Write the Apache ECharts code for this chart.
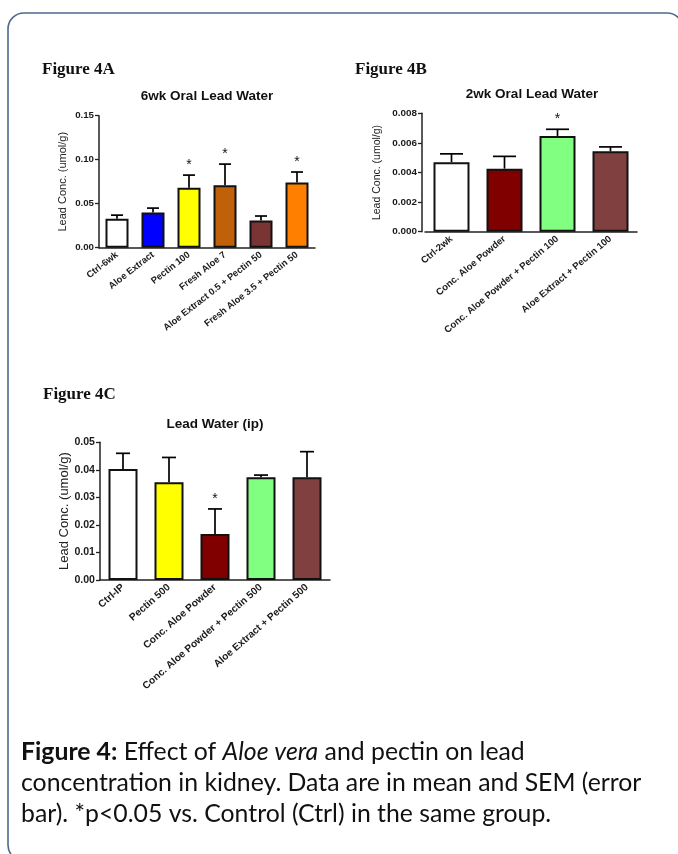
<!DOCTYPE html>
<html><head><meta charset="utf-8">
<script src="https://cdn.jsdelivr.net/npm/echarts@6/dist/echarts.min.js"></script>
<style>html,body{margin:0;padding:0;background:#fff}#c{width:678px;height:854px}</style>
</head><body><div id="c"></div>
<script>
// ---- Figure 4A ----
const catsA = ['Ctrl-6wk', 'Aloe Extract', 'Pectin 100', 'Fresh Aloe 7', 'Aloe Extract 0.5 + Pectin 50', 'Fresh Aloe 3.5 + Pectin 50'];
const meanA = [0.033, 0.040, 0.068, 0.071, 0.031, 0.074];
const semA = [0.004, 0.005, 0.0145, 0.024, 0.005, 0.012];
const sigA = [0, 0, 1, 1, 0, 1];
const colorsA = ['#ffffff', '#0000ff', '#ffff00', '#c06008', '#7a3434', '#ff8000'];
// ---- Figure 4B ----
const catsB = ['Ctrl-2wk', 'Conc. Aloe Powder', 'Conc. Aloe Powder + Pectin 100', 'Aloe Extract + Pectin 100'];
const meanB = [0.0047, 0.00426, 0.00647, 0.00543];
const semB = [0.00056, 0.00083, 0.00045, 0.0003];
const sigB = [0, 0, 1, 0];
const colorsB = ['#ffffff', '#800000', '#80ff80', '#804040'];
// ---- Figure 4C ----
const catsC = ['Ctrl-IP', 'Pectin 500', 'Conc. Aloe Powder', 'Conc. Aloe Powder + Pectin 500', 'Aloe Extract + Pectin 500'];
const meanC = [0.0403, 0.0355, 0.0167, 0.0373, 0.0373];
const semC = [0.0057, 0.009, 0.0091, 0.0008, 0.0093];
const sigC = [0, 0, 1, 0, 0];
const colorsC = ['#ffffff', '#ffff00', '#800000', '#80ff80', '#804040'];

const titles = ['6wk Oral Lead Water', '2wk Oral Lead Water', 'Lead Water (ip)'];
const yName = 'Lead Conc. (umol/g)';

const FONT = 'Liberation Sans';
const chart = echarts.init(document.getElementById('c'));

function errSeries(idx, means, sems, sigs, capHalf) {
  return {
    type: 'custom', xAxisIndex: idx, yAxisIndex: idx, z: 5,
    data: means.map((m, i) => [i, m, sems[i], sigs[i]]),
    encode: { x: 0, y: 1 },
    renderItem(params, api) {
      const i = api.value(0), m = api.value(1), s = api.value(2), sig = api.value(3);
      const base = api.coord([i, m]);
      const top = api.coord([i, m + s]);
      const st = { stroke: '#000', lineWidth: 1.7 };
      const ch = [
        { type: 'line', shape: { x1: base[0], y1: base[1], x2: top[0], y2: top[1] }, style: st },
        { type: 'line', shape: { x1: top[0] - capHalf, y1: top[1], x2: top[0] + capHalf, y2: top[1] }, style: st }
      ];
      if (sig) ch.push({ type: 'text', x: top[0], y: top[1] - 10,
        style: { text: '*', font: '14px ' + FONT, align: 'center', verticalAlign: 'middle', fill: '#111' } });
      return { type: 'group', children: ch };
    }
  };
}
function barSeries(idx, means, colors, bw) {
  return {
    type: 'bar', xAxisIndex: idx, yAxisIndex: idx, barWidth: bw,
    data: means.map((m, i) => ({ value: m, itemStyle: { color: colors[i] } })),
    itemStyle: { borderColor: '#111', borderWidth: 2 },
    animation: false
  };
}
function xAx(idx, cats, rot, fs) {
  return {
    type: 'category', gridIndex: idx, data: cats,
    axisLine: { lineStyle: { color: '#222', width: 1.5 } },
    axisTick: { alignWithLabel: true, length: 4, lineStyle: { color: '#222', width: 1.3 } },
    axisLabel: { rotate: rot, interval: 0, fontFamily: FONT, fontWeight: 'bold', fontSize: fs, color: '#1a1a1a', margin: 6 }
  };
}
function yAx(idx, max, interval, dec, fs, nfs, gap, off) {
  return {
    type: 'value', gridIndex: idx, min: 0, max: max, interval: interval, offset: off || 0,
    splitLine: { show: false },
    axisLine: { show: true, lineStyle: { color: '#222', width: 1.5 } },
    axisTick: { show: true, length: 4, lineStyle: { color: '#222', width: 1.3 } },
    axisLabel: { formatter: v => v.toFixed(dec), fontFamily: FONT, fontWeight: 'bold', fontSize: fs, color: '#1a1a1a', margin: 5 },
    name: yName, nameLocation: 'middle', nameRotate: 90, nameGap: gap,
    nameTextStyle: { fontFamily: FONT, fontSize: nfs, color: '#222' }
  };
}

const option = {
  animation: false,
  backgroundColor: '#ffffff',
  grid: [
    { left: 99, top: 115.7, width: 216, height: 132 },
    { left: 425, top: 113.3, width: 212, height: 118.4 },
    { left: 100, top: 442.3, width: 230, height: 137.7 }
  ],
  title: [
    { text: titles[0], left: 202, top: 84, textAlign: 'center', textStyle: { fontFamily: FONT, fontWeight: 'bold', fontSize: 13.5, color: '#111' } },
    { text: titles[1], left: 527, top: 82, textAlign: 'center', textStyle: { fontFamily: FONT, fontWeight: 'bold', fontSize: 13.5, color: '#111' } },
    { text: titles[2], left: 210, top: 412, textAlign: 'center', textStyle: { fontFamily: FONT, fontWeight: 'bold', fontSize: 13.5, color: '#111' } }
  ],
  xAxis: [xAx(0, catsA, 38, 9.4), xAx(1, catsB, 40, 9.6), xAx(2, catsC, 41, 10.2)],
  yAxis: [yAx(0, 0.15, 0.05, 2, 9.7, 11, 31), yAx(1, 0.008, 0.002, 3, 9.9, 10.5, 39, 3), yAx(2, 0.05, 0.01, 2, 10.6, 13, 28)],
  series: [
    barSeries(0, meanA, colorsA, 23), errSeries(0, meanA, semA, sigA, 6),
    barSeries(1, meanB, colorsB, 36), errSeries(1, meanB, semB, sigB, 11.5),
    barSeries(2, meanC, colorsC, 29), errSeries(2, meanC, semC, sigC, 7)
  ],
  graphic: [
    { type: 'rect', shape: { x: 8, y: 13, width: 675, height: 848, r: 16 }, style: { fill: 'none', stroke: '#4d6a8c', lineWidth: 1.6 }, z: 0 },
    { type: 'text', x: 42, y: 61, style: { text: 'Figure 4A', font: 'bold 17px "Liberation Serif"', fill: '#111' } },
    { type: 'text', x: 355, y: 61, style: { text: 'Figure 4B', font: 'bold 17px "Liberation Serif"', fill: '#111' } },
    { type: 'text', x: 43, y: 386, style: { text: 'Figure 4C', font: 'bold 17px "Liberation Serif"', fill: '#111' } },
    { type: 'text', x: 21, y: 737, style: {
        text: '{b|Figure 4:} Effect of {i|Aloe vera} and pectin on lead\nconcentration in kidney. Data are in mean and SEM (error\nbar). *p<0.05 vs. Control (Ctrl) in the same group.',
        font: '24.8px Lato', fill: '#111', lineHeight: 31,
        rich: { b: { fontWeight: 'bold', fontFamily: 'Lato', fontSize: 24.8, fill: '#111' }, i: { fontStyle: 'italic', fontFamily: 'Lato', fontSize: 24.8, fill: '#111' } }
      } }
  ]
};
chart.setOption(option);
</script>
</body></html>
